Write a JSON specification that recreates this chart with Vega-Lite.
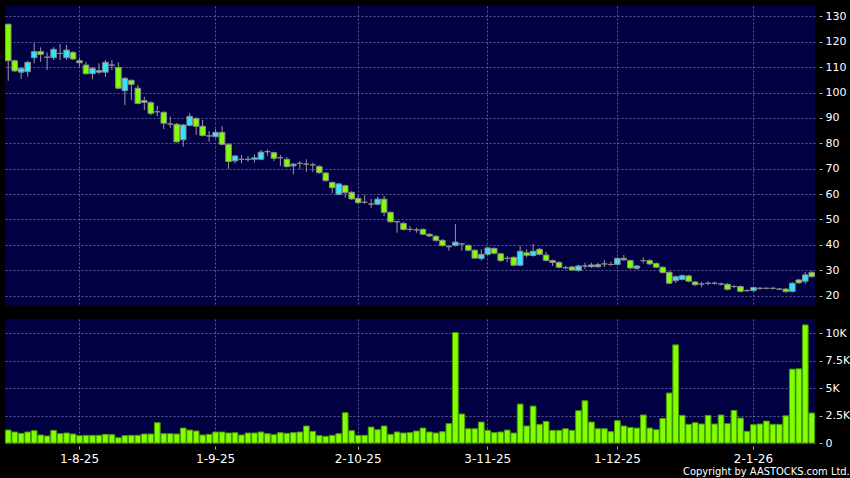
{
  "$schema": "https://vega.github.io/schema/vega-lite/v6.json",
  "background": "#000000",
  "padding": {"left": 4, "top": 6, "right": 4, "bottom": 2},
  "spacing": 13,
  "title": {"text": "Copyright by AASTOCKS.com Ltd.", "orient": "bottom", "anchor": "end", "color": "#ffffff", "font": "DejaVu Sans Condensed, DejaVu Sans", "fontSize": 11, "fontWeight": "normal", "offset": -1},
  "config": {
    "view": {"fill": "#000042", "stroke": null},
    "axis": {"labelFont": "DejaVu Sans", "labelColor": "#ffffff", "title": null, "domain": false, "gridColor": "#5c5c99", "gridDash": [2, 2], "gridWidth": 1, "tickColor": "#b0b0b0", "labelOverlap": false}
  },
  "datasets": {
    "px": [
      {"d":"2025-07-17","o":126.9,"h":127.0,"l":104.6,"c":112.5,"v":1180},
      {"d":"2025-07-18","o":112.5,"h":113.0,"l":108.0,"c":108.5,"v":1000},
      {"d":"2025-07-21","o":108.0,"h":110.0,"l":105.4,"c":109.5,"v":880},
      {"d":"2025-07-22","o":108.2,"h":112.5,"l":106.2,"c":111.9,"v":1000},
      {"d":"2025-07-23","o":113.7,"h":119.4,"l":111.5,"c":116.1,"v":1120},
      {"d":"2025-07-24","o":116.1,"h":117.8,"l":112.1,"c":115.0,"v":730},
      {"d":"2025-07-25","o":113.9,"h":115.8,"l":108.9,"c":113.9,"v":640},
      {"d":"2025-07-28","o":113.7,"h":117.8,"l":112.8,"c":117.0,"v":1150},
      {"d":"2025-07-29","o":115.4,"h":119.1,"l":112.8,"c":115.4,"v":850},
      {"d":"2025-07-30","o":113.7,"h":118.7,"l":112.8,"c":116.7,"v":910},
      {"d":"2025-07-31","o":115.8,"h":116.3,"l":112.8,"c":113.2,"v":820},
      {"d":"2025-08-01","o":112.5,"h":113.7,"l":110.2,"c":111.7,"v":670},
      {"d":"2025-08-04","o":110.8,"h":112.1,"l":107.0,"c":107.4,"v":700},
      {"d":"2025-08-05","o":107.4,"h":110.0,"l":105.2,"c":109.5,"v":700},
      {"d":"2025-08-06","o":108.6,"h":111.5,"l":107.2,"c":108.0,"v":700},
      {"d":"2025-08-07","o":108.0,"h":112.8,"l":106.2,"c":111.9,"v":790},
      {"d":"2025-08-08","o":110.8,"h":112.8,"l":108.9,"c":110.8,"v":760},
      {"d":"2025-08-11","o":109.9,"h":111.9,"l":101.3,"c":101.7,"v":480},
      {"d":"2025-08-12","o":100.7,"h":106.0,"l":95.1,"c":105.6,"v":670},
      {"d":"2025-08-13","o":104.8,"h":105.2,"l":97.0,"c":103.2,"v":700},
      {"d":"2025-08-14","o":101.7,"h":103.0,"l":95.3,"c":95.7,"v":700},
      {"d":"2025-08-15","o":96.8,"h":98.3,"l":93.1,"c":96.1,"v":820},
      {"d":"2025-08-18","o":96.0,"h":96.5,"l":91.1,"c":91.8,"v":820},
      {"d":"2025-08-19","o":92.4,"h":94.7,"l":90.7,"c":92.4,"v":1850},
      {"d":"2025-08-20","o":92.2,"h":92.6,"l":85.6,"c":87.9,"v":850},
      {"d":"2025-08-21","o":87.6,"h":90.5,"l":86.1,"c":87.6,"v":850},
      {"d":"2025-08-22","o":87.5,"h":88.0,"l":80.2,"c":80.6,"v":820},
      {"d":"2025-08-25","o":81.4,"h":87.6,"l":78.7,"c":87.2,"v":1360},
      {"d":"2025-08-26","o":87.1,"h":91.8,"l":86.7,"c":90.6,"v":1180},
      {"d":"2025-08-27","o":89.8,"h":90.2,"l":83.3,"c":86.7,"v":1090},
      {"d":"2025-08-28","o":86.7,"h":89.2,"l":82.7,"c":83.1,"v":730},
      {"d":"2025-08-29","o":82.9,"h":84.8,"l":80.6,"c":82.9,"v":790},
      {"d":"2025-09-01","o":82.6,"h":85.6,"l":82.2,"c":84.3,"v":1000},
      {"d":"2025-09-02","o":84.3,"h":86.8,"l":79.2,"c":79.6,"v":1000},
      {"d":"2025-09-03","o":79.6,"h":80.0,"l":69.9,"c":72.8,"v":910},
      {"d":"2025-09-04","o":73.1,"h":75.4,"l":72.1,"c":75.0,"v":940},
      {"d":"2025-09-05","o":73.7,"h":75.4,"l":72.1,"c":73.7,"v":730},
      {"d":"2025-09-08","o":73.7,"h":75.0,"l":72.8,"c":73.7,"v":910},
      {"d":"2025-09-09","o":73.7,"h":75.7,"l":72.5,"c":74.3,"v":910},
      {"d":"2025-09-10","o":73.7,"h":77.4,"l":73.3,"c":76.5,"v":1000},
      {"d":"2025-09-11","o":76.7,"h":77.6,"l":75.1,"c":76.7,"v":850},
      {"d":"2025-09-12","o":76.3,"h":76.7,"l":73.0,"c":74.1,"v":760},
      {"d":"2025-09-15","o":74.3,"h":75.4,"l":71.1,"c":74.3,"v":940},
      {"d":"2025-09-16","o":73.7,"h":74.5,"l":70.5,"c":70.8,"v":880},
      {"d":"2025-09-17","o":71.1,"h":72.2,"l":67.8,"c":71.8,"v":940},
      {"d":"2025-09-18","o":72.1,"h":73.0,"l":69.8,"c":72.1,"v":1000},
      {"d":"2025-09-19","o":71.8,"h":73.7,"l":68.8,"c":71.8,"v":1550},
      {"d":"2025-09-22","o":71.5,"h":72.4,"l":68.8,"c":71.5,"v":1060},
      {"d":"2025-09-23","o":70.9,"h":71.3,"l":68.0,"c":68.4,"v":670},
      {"d":"2025-09-24","o":68.3,"h":68.7,"l":64.9,"c":65.3,"v":610},
      {"d":"2025-09-25","o":64.6,"h":65.0,"l":60.3,"c":62.5,"v":700},
      {"d":"2025-09-26","o":59.9,"h":64.4,"l":59.5,"c":64.0,"v":850},
      {"d":"2025-09-29","o":63.3,"h":63.7,"l":58.7,"c":60.6,"v":2760},
      {"d":"2025-09-30","o":60.7,"h":61.1,"l":57.7,"c":58.1,"v":1120},
      {"d":"2025-10-02","o":58.3,"h":59.6,"l":56.2,"c":56.6,"v":700},
      {"d":"2025-10-03","o":56.8,"h":59.6,"l":56.1,"c":56.8,"v":700},
      {"d":"2025-10-06","o":56.1,"h":58.1,"l":54.6,"c":56.1,"v":1450},
      {"d":"2025-10-08","o":56.0,"h":59.0,"l":55.6,"c":58.0,"v":1210},
      {"d":"2025-10-09","o":58.0,"h":59.3,"l":51.4,"c":52.8,"v":1550},
      {"d":"2025-10-10","o":52.8,"h":53.2,"l":48.7,"c":49.1,"v":790},
      {"d":"2025-10-13","o":49.1,"h":49.5,"l":44.8,"c":49.1,"v":1000},
      {"d":"2025-10-14","o":48.5,"h":48.9,"l":45.7,"c":46.1,"v":910},
      {"d":"2025-10-15","o":46.1,"h":47.4,"l":45.2,"c":46.1,"v":940},
      {"d":"2025-10-16","o":45.9,"h":46.8,"l":44.8,"c":45.9,"v":1090},
      {"d":"2025-10-17","o":46.1,"h":46.5,"l":43.8,"c":44.2,"v":1360},
      {"d":"2025-10-20","o":44.2,"h":44.6,"l":43.1,"c":43.5,"v":1000},
      {"d":"2025-10-21","o":43.4,"h":43.8,"l":41.3,"c":41.7,"v":910},
      {"d":"2025-10-22","o":41.8,"h":42.2,"l":39.3,"c":39.7,"v":1030},
      {"d":"2025-10-23","o":39.3,"h":40.0,"l":37.7,"c":39.3,"v":1760},
      {"d":"2025-10-24","o":39.8,"h":48.2,"l":39.4,"c":41.1,"v":10060},
      {"d":"2025-10-27","o":40.4,"h":40.8,"l":37.7,"c":40.4,"v":2640},
      {"d":"2025-10-28","o":39.8,"h":40.2,"l":37.5,"c":37.9,"v":1300},
      {"d":"2025-10-30","o":37.9,"h":38.3,"l":34.4,"c":34.8,"v":1300},
      {"d":"2025-10-31","o":34.6,"h":38.3,"l":33.8,"c":36.3,"v":1910},
      {"d":"2025-11-03","o":36.3,"h":39.2,"l":35.9,"c":38.8,"v":1150},
      {"d":"2025-11-04","o":38.6,"h":39.0,"l":36.3,"c":36.7,"v":940},
      {"d":"2025-11-05","o":36.5,"h":36.9,"l":33.4,"c":33.8,"v":1000},
      {"d":"2025-11-06","o":34.7,"h":35.6,"l":33.3,"c":34.7,"v":1180},
      {"d":"2025-11-07","o":35.1,"h":35.5,"l":31.6,"c":32.0,"v":910},
      {"d":"2025-11-10","o":32.0,"h":39.6,"l":31.6,"c":37.5,"v":3550},
      {"d":"2025-11-11","o":36.9,"h":38.3,"l":35.1,"c":35.9,"v":1550},
      {"d":"2025-11-12","o":35.8,"h":40.4,"l":35.4,"c":37.5,"v":3360},
      {"d":"2025-11-13","o":38.3,"h":38.7,"l":35.9,"c":36.3,"v":1700},
      {"d":"2025-11-14","o":36.0,"h":37.2,"l":33.5,"c":33.9,"v":1970},
      {"d":"2025-11-17","o":33.8,"h":34.2,"l":31.7,"c":33.1,"v":1150},
      {"d":"2025-11-18","o":33.1,"h":33.5,"l":30.8,"c":31.2,"v":1150},
      {"d":"2025-11-19","o":31.0,"h":31.7,"l":30.4,"c":31.0,"v":1300},
      {"d":"2025-11-20","o":31.3,"h":31.7,"l":29.8,"c":30.1,"v":1150},
      {"d":"2025-11-21","o":29.9,"h":32.1,"l":29.5,"c":31.7,"v":2940},
      {"d":"2025-11-24","o":31.7,"h":33.0,"l":30.4,"c":31.7,"v":3850},
      {"d":"2025-11-25","o":32.1,"h":33.0,"l":31.0,"c":31.4,"v":1910},
      {"d":"2025-11-26","o":31.4,"h":33.0,"l":31.0,"c":32.2,"v":1300},
      {"d":"2025-11-27","o":32.5,"h":34.1,"l":31.2,"c":32.5,"v":1300},
      {"d":"2025-11-28","o":32.3,"h":33.4,"l":31.7,"c":32.3,"v":1030},
      {"d":"2025-12-01","o":32.3,"h":35.1,"l":31.9,"c":34.7,"v":2030},
      {"d":"2025-12-02","o":34.7,"h":36.0,"l":33.8,"c":34.1,"v":1550},
      {"d":"2025-12-03","o":33.8,"h":34.2,"l":30.5,"c":30.9,"v":1420},
      {"d":"2025-12-04","o":30.8,"h":32.1,"l":30.2,"c":31.7,"v":1360},
      {"d":"2025-12-05","o":33.8,"h":35.1,"l":32.7,"c":33.8,"v":2550},
      {"d":"2025-12-08","o":33.8,"h":34.4,"l":32.1,"c":32.5,"v":1360},
      {"d":"2025-12-09","o":32.7,"h":33.1,"l":30.8,"c":31.2,"v":1210},
      {"d":"2025-12-10","o":31.2,"h":31.6,"l":28.7,"c":29.1,"v":2240},
      {"d":"2025-12-11","o":29.2,"h":29.6,"l":24.5,"c":24.9,"v":4550},
      {"d":"2025-12-12","o":25.9,"h":27.9,"l":25.0,"c":27.5,"v":8940},
      {"d":"2025-12-15","o":26.4,"h":28.3,"l":26.0,"c":27.9,"v":2520},
      {"d":"2025-12-16","o":27.8,"h":28.2,"l":25.3,"c":25.7,"v":1700},
      {"d":"2025-12-17","o":25.4,"h":25.8,"l":23.9,"c":24.3,"v":1850},
      {"d":"2025-12-18","o":24.6,"h":25.5,"l":23.3,"c":24.6,"v":1730},
      {"d":"2025-12-19","o":24.9,"h":25.7,"l":24.1,"c":24.9,"v":2520},
      {"d":"2025-12-22","o":24.9,"h":25.5,"l":24.3,"c":24.9,"v":1730},
      {"d":"2025-12-23","o":24.6,"h":25.2,"l":24.0,"c":24.6,"v":2550},
      {"d":"2025-12-24","o":24.5,"h":24.9,"l":22.1,"c":22.5,"v":1760},
      {"d":"2025-12-29","o":23.6,"h":24.2,"l":23.0,"c":23.6,"v":2970},
      {"d":"2025-12-30","o":23.6,"h":24.0,"l":21.3,"c":21.7,"v":2270},
      {"d":"2025-12-31","o":22.0,"h":22.5,"l":21.5,"c":22.0,"v":1060},
      {"d":"2026-01-02","o":22.0,"h":23.6,"l":21.4,"c":23.2,"v":1670},
      {"d":"2026-01-05","o":22.9,"h":23.4,"l":22.4,"c":22.9,"v":1730},
      {"d":"2026-01-06","o":22.9,"h":23.3,"l":22.5,"c":22.9,"v":2000},
      {"d":"2026-01-07","o":22.9,"h":23.4,"l":22.4,"c":22.9,"v":1700},
      {"d":"2026-01-08","o":22.6,"h":23.0,"l":22.2,"c":22.6,"v":1700},
      {"d":"2026-01-09","o":22.6,"h":23.0,"l":21.2,"c":21.6,"v":2480},
      {"d":"2026-01-12","o":21.7,"h":25.3,"l":21.3,"c":24.9,"v":6730},
      {"d":"2026-01-13","o":26.2,"h":26.6,"l":24.6,"c":25.1,"v":6760},
      {"d":"2026-01-14","o":25.7,"h":29.3,"l":24.6,"c":28.2,"v":10760},
      {"d":"2026-01-15","o":29.2,"h":29.6,"l":27.1,"c":27.5,"v":2730}
    ]
  },
  "vconcat": [
    {
      "width": 810,
      "height": 300,
      "data": {"name": "px"},
      "encoding": {
        "x": {"field": "d", "type": "ordinal", "scale": {"paddingInner": 0, "paddingOuter": 0},
              "axis": {"orient": "bottom", "labels": false, "ticks": false, "grid": true, "minExtent": 0, "maxExtent": 0,
                       "values": ["2025-08-01", "2025-09-01", "2025-10-02", "2025-11-03", "2025-12-01", "2026-01-02"]}}
      },
      "layer": [
        {
          "mark": {"type": "rule", "color": "#9a9a9a", "strokeWidth": 1},
          "encoding": {
            "y": {"field": "l", "type": "quantitative", "scale": {"domain": [15.94, 134.06], "nice": false, "zero": false},
                  "axis": {"orient": "right", "values": [20, 30, 40, 50, 60, 70, 80, 90, 100, 110, 120, 130], "grid": true, "labelOverlap": false,
                           "offset": 4, "tickSize": 3, "labelPadding": 3, "labelFontSize": 11, "minExtent": 28, "maxExtent": 28}},
            "y2": {"field": "h"}
          }
        },
        {
          "mark": {"type": "bar", "width": {"band": 0.86}, "stroke": "#8a8a8a", "strokeWidth": 1},
          "encoding": {
            "y": {"field": "o", "type": "quantitative", "scale": {"domain": [15.94, 134.06], "nice": false, "zero": false},
                  "axis": {"orient": "right", "values": [20, 30, 40, 50, 60, 70, 80, 90, 100, 110, 120, 130], "grid": true, "labelOverlap": false,
                           "offset": 4, "tickSize": 3, "labelPadding": 3, "labelFontSize": 11, "minExtent": 28, "maxExtent": 28}},
            "y2": {"field": "c"},
            "fill": {"condition": [{"test": "datum.c > datum.o", "value": "#33e4ff"}, {"test": "datum.c < datum.o", "value": "#80ff00"}], "value": "#9a9a9a"}
          }
        }
      ]
    },
    {
      "width": 810,
      "height": 124,
      "data": {"name": "px"},
      "mark": {"type": "bar", "width": {"band": 0.88}, "fill": "#80ff00", "stroke": "#4a9a00", "strokeWidth": 1},
      "encoding": {
        "x": {"field": "d", "type": "ordinal", "scale": {"paddingInner": 0, "paddingOuter": 0},
              "axis": {"orient": "bottom", "grid": true, "offset": 3, "tickSize": 3, "labelPadding": 4, "labelFontSize": 12, "labelAngle": 0,
                       "minExtent": 21, "maxExtent": 21,
                       "values": ["2025-08-01", "2025-09-01", "2025-10-02", "2025-11-03", "2025-12-01", "2026-01-02"],
                       "labelExpr": "utcFormat(toDate(datum.value), '%-d-%-m-%y')"}},
        "y": {"field": "v", "type": "quantitative", "scale": {"domain": [0, 11300], "nice": false},
              "axis": {"orient": "right", "values": [0, 2500, 5000, 7500, 10000], "grid": true,
                       "offset": 4, "tickSize": 3, "labelPadding": 3, "labelFontSize": 11, "minExtent": 28, "maxExtent": 28,
                       "labelExpr": "datum.value == 0 ? '0' : format(datum.value / 1000, '~g') + 'K'"}}
      }
    }
  ]
}
